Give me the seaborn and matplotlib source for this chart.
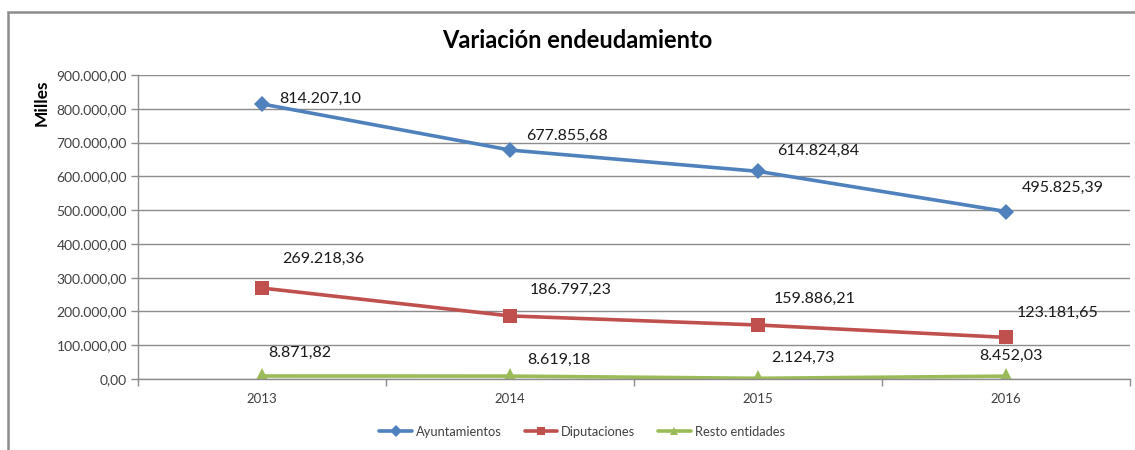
import matplotlib
matplotlib.use("Agg")
import matplotlib.pyplot as plt
import matplotlib.patches as mpatches
from matplotlib.lines import Line2D
from matplotlib.ticker import FixedLocator, FuncFormatter
import seaborn as sns
import pandas as pd

# ---- data ----
years = ["2013", "2014", "2015", "2016"]
ayuntamientos = [814207.10, 677855.68, 614824.84, 495825.39]
diputaciones = [269218.36, 186797.23, 159886.21, 123181.65]
resto_entidades = [8871.82, 8619.18, 2124.73, 8452.03]
series_names = ["Ayuntamientos", "Diputaciones", "Resto entidades"]
title = "Variación endeudamiento"
ylabel = "Milles"

colors = {"Ayuntamientos": "#4F81BD", "Diputaciones": "#C0504D", "Resto entidades": "#9BBB59"}
markers = {"Ayuntamientos": "D", "Diputaciones": "s", "Resto entidades": "^"}
marker_sizes = {"Ayuntamientos": 8.5, "Diputaciones": 10, "Resto entidades": 11}

df = pd.DataFrame({
    "idx": list(range(len(years))) * 3,
    "valor": ayuntamientos + diputaciones + resto_entidades,
    "serie": sum([[n] * len(years) for n in series_names], []),
})

def fmt_es(v, dec=2):
    s = f"{v:,.{dec}f}"
    return s.replace(",", "X").replace(".", ",").replace("X", ".")

sns.set_theme(style="white")
plt.rcParams["font.family"] = ["Lato", "DejaVu Sans"]

W, H = 1135, 450
fig = plt.figure(figsize=(W / 100, H / 100), dpi=100)
ax = fig.add_axes([138 / W, 1 - 379 / H, (1130 - 138) / W, (379 - 75) / H])

sns.lineplot(data=df, x="idx", y="valor", hue="serie", style="serie",
             palette=colors, markers=markers, dashes=False, markersize=9,
             linewidth=2.6, markeredgewidth=0, ax=ax, legend=False)
for line, name in zip(ax.lines, series_names):
    line.set_markersize(marker_sizes[name])

ax.set_xlim(-0.5, 3.5)
ax.set_ylim(0, 900000)
ax.yaxis.set_major_locator(FixedLocator([i * 100000 for i in range(10)]))
ax.yaxis.set_major_formatter(FuncFormatter(lambda v, p: fmt_es(v)))
ax.grid(axis="y", color="#8c8c8c", linewidth=1)
ax.set_axisbelow(True)
ax.set_xlabel("")
ax.set_ylabel("")

ax.set_xticks([-0.5, 0.5, 1.5, 2.5, 3.5])
ax.set_xticklabels([])
ax.set_xticks(range(len(years)), minor=True)
ax.set_xticklabels(years, minor=True)
ax.tick_params(axis="x", which="major", direction="out", length=5, color="#8c8c8c", width=1, bottom=True)
ax.tick_params(axis="x", which="minor", length=0, labelsize=9.5, labelcolor="#404040", pad=10)
ax.tick_params(axis="y", direction="out", length=5, color="#8c8c8c", width=1, left=True,
               labelsize=10, labelcolor="#404040", pad=3)
for side in ["top", "right"]:
    ax.spines[side].set_visible(False)
for side in ["left", "bottom"]:
    ax.spines[side].set_color("#8c8c8c")
    ax.spines[side].set_linewidth(1)

# data labels (offsets in pixels)
label_offsets = {
    "Ayuntamientos": [(17, 5), (16, 14), (19, 20), (16, 24)],
    "Diputaciones": [(20, 29), (20, 26), (16, 26), (11, 25)],
    "Resto entidades": [(6, 23), (17, 16), (13, 20), (-27, 20)],
}
series_vals = {"Ayuntamientos": ayuntamientos, "Diputaciones": diputaciones,
               "Resto entidades": resto_entidades}
for name in series_names:
    for i, v in enumerate(series_vals[name]):
        dx, dy = label_offsets[name][i]
        ax.annotate(fmt_es(v), xy=(i, v), xytext=(dx * 0.72, dy * 0.72),
                    textcoords="offset points", ha="left", va="center",
                    fontsize=11.5, color="#1a1a1a")

fig.text(577 / W, 1 - 40 / H, title, ha="center", va="center", fontsize=17,
         fontweight="bold", color="#000000")
fig.text(42 / W, 1 - 103 / H, ylabel, ha="center", va="center", rotation=90,
         fontsize=12.5, fontweight="bold", color="#000000")

handles = [Line2D([0], [0], color=colors[n], marker=markers[n], lw=2.6,
                  markersize=6, markeredgewidth=0) for n in series_names]
fig.legend(handles, series_names, loc="center", bbox_to_anchor=(582 / W, 1 - 432 / H),
           ncol=3, frameon=False, fontsize=9.3, handlelength=2.5, handletextpad=0.3,
           columnspacing=1.8, labelcolor="#404040")

frame = mpatches.Rectangle((8 / W, -0.05), 1.1, 1 - 11.5 / H + 0.05, transform=fig.transFigure,
                           fill=False, edgecolor="#8c8c8c", linewidth=1.8, clip_on=False)
fig.patches.append(frame)

fig.savefig("out.png", dpi=100)
